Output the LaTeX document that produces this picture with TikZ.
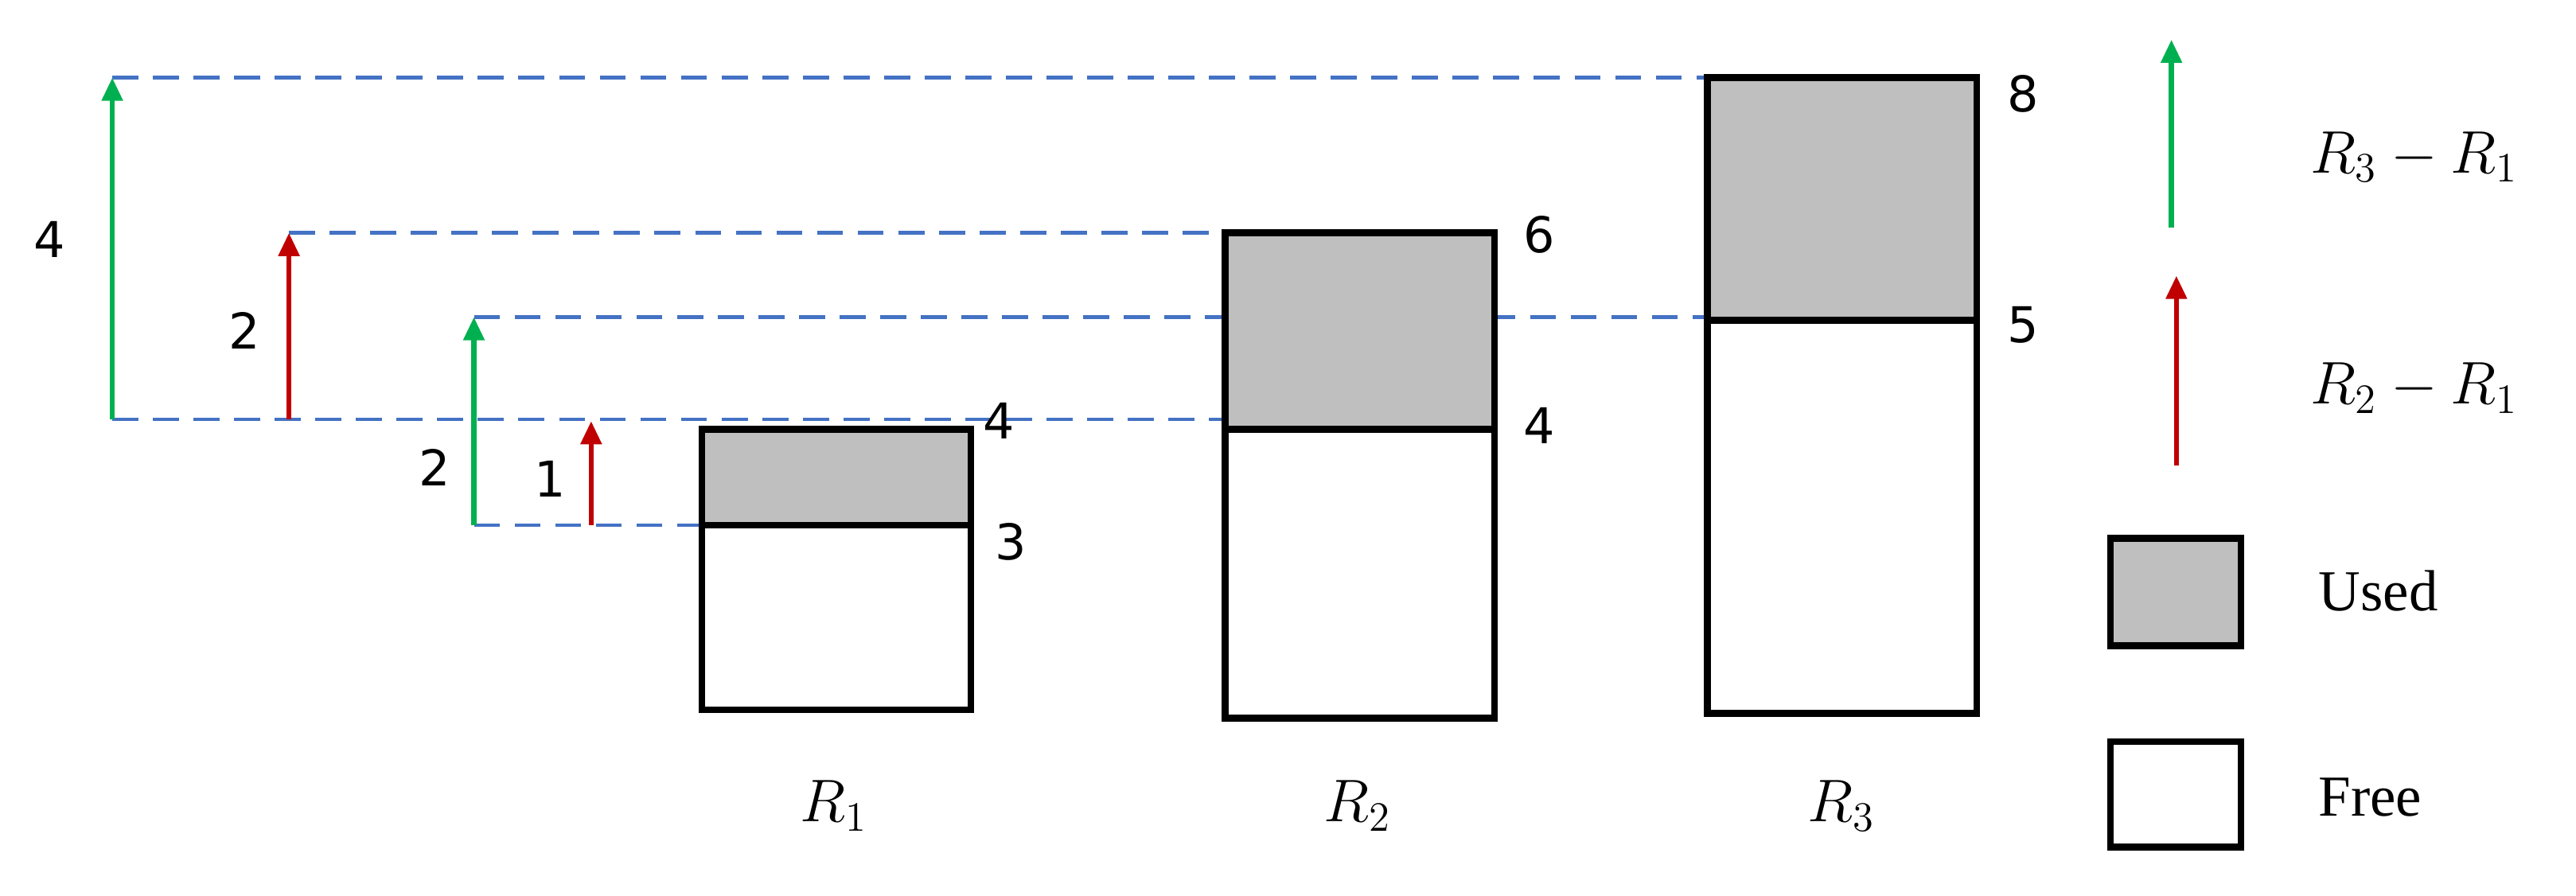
\documentclass[tikz,border=0pt]{standalone}
\usepackage{fontspec}
\setmainfont{Liberation Serif}
\newfontfamily\numfont{DejaVu Sans}
\usetikzlibrary{arrows.meta}
\definecolor{dblue}{RGB}{68,114,196}
\definecolor{agreen}{RGB}{0,176,80}
\definecolor{ared}{RGB}{192,0,0}
\definecolor{ugray}{RGB}{191,191,191}
\tikzset{
 box/.style={draw=black,line width=2.3pt},
 used/.style={box,fill=ugray},
 dl/.style={dblue,dashed,line width=1.2pt,dash pattern=on 9pt off 5pt},
 garr/.style={agreen,line width=1.8pt,-{Triangle[length=8pt,width=7pt]}},
 rarr/.style={ared,line width=1.8pt,-{Triangle[length=8pt,width=7pt]}},
 num/.style={font=\numfont\fontsize{17}{20}\selectfont},
 lab/.style={font=\fontsize{20}{24}\selectfont},
 mlab/.style={font=\fontsize{22}{26}\selectfont},
}
\begin{document}
\begin{tikzpicture}[x=0.02cm,y=-0.02cm]
\useasboundingbox (0,0) rectangle (1560,542.6);
\coordinate (a1) at (68,47); \coordinate (a2) at (68,254);
\coordinate (b1) at (175,141); \coordinate (b2) at (175,254);
\coordinate (c1) at (287,192); \coordinate (c2) at (287,318);
\coordinate (d1) at (358,318); \coordinate (d2) at (358,255);
\draw[dl] (a1) -- (1034,47);
\draw[dl] (b1) -- (742,141);
\draw[dl] (c1) -- (1034,192);
\draw[dl] (a2) -- (742,254);
\draw[dl] (c2) -- (425,318);
\draw[box] (425,318) rectangle (588,430);
\draw[used] (425,260) rectangle (588,318);
\draw[box] (742,260) rectangle (905,435);
\draw[used] (742,141) rectangle (905,260);
\draw[box] (1034,194) rectangle (1197,432);
\draw[used] (1034,47) rectangle (1197,194);
\draw[garr] (a2) -- (a1);
\draw[rarr] (b2) -- (b1);
\draw[garr] (c2) -- (c1);
\draw[rarr] (d1) -- (d2);
\node[num] (n4a) at (30,145) {4};
\node[num] (n2a) at (148,200) {2};
\node[num] (n2b) at (263,283) {2};
\node[num] (n1) at (333,290) {1};
\node[num] (r14) at (605,255) {4};
\node[num] (r13) at (612,328) {3};
\node[num] (r26) at (932,142) {6};
\node[num] (r24) at (932,258) {4};
\node[num] (r38) at (1225,57) {8};
\node[num] (r35) at (1225,197) {5};
\node[mlab] (R1) at (505,488) {$R_1$};
\node[mlab] (R2) at (822,488) {$R_2$};
\node[mlab] (R3) at (1115,488) {$R_3$};
\draw[garr] (1315,138) -- (1315,24);
\draw[rarr] (1318,282) -- (1318,167);
\node[mlab] (l1) at (1462,95) {$R_3-R_1$};
\node[mlab] (l2) at (1462,235) {$R_2-R_1$};
\draw[used] (1278,326) rectangle (1357,391);
\draw[box] (1278,449) rectangle (1357,513);
\node[lab,anchor=west] (lu) at (1398,358) {Used};
\node[lab,anchor=west] (lf) at (1398,483) {Free};
\end{tikzpicture}
\end{document}
